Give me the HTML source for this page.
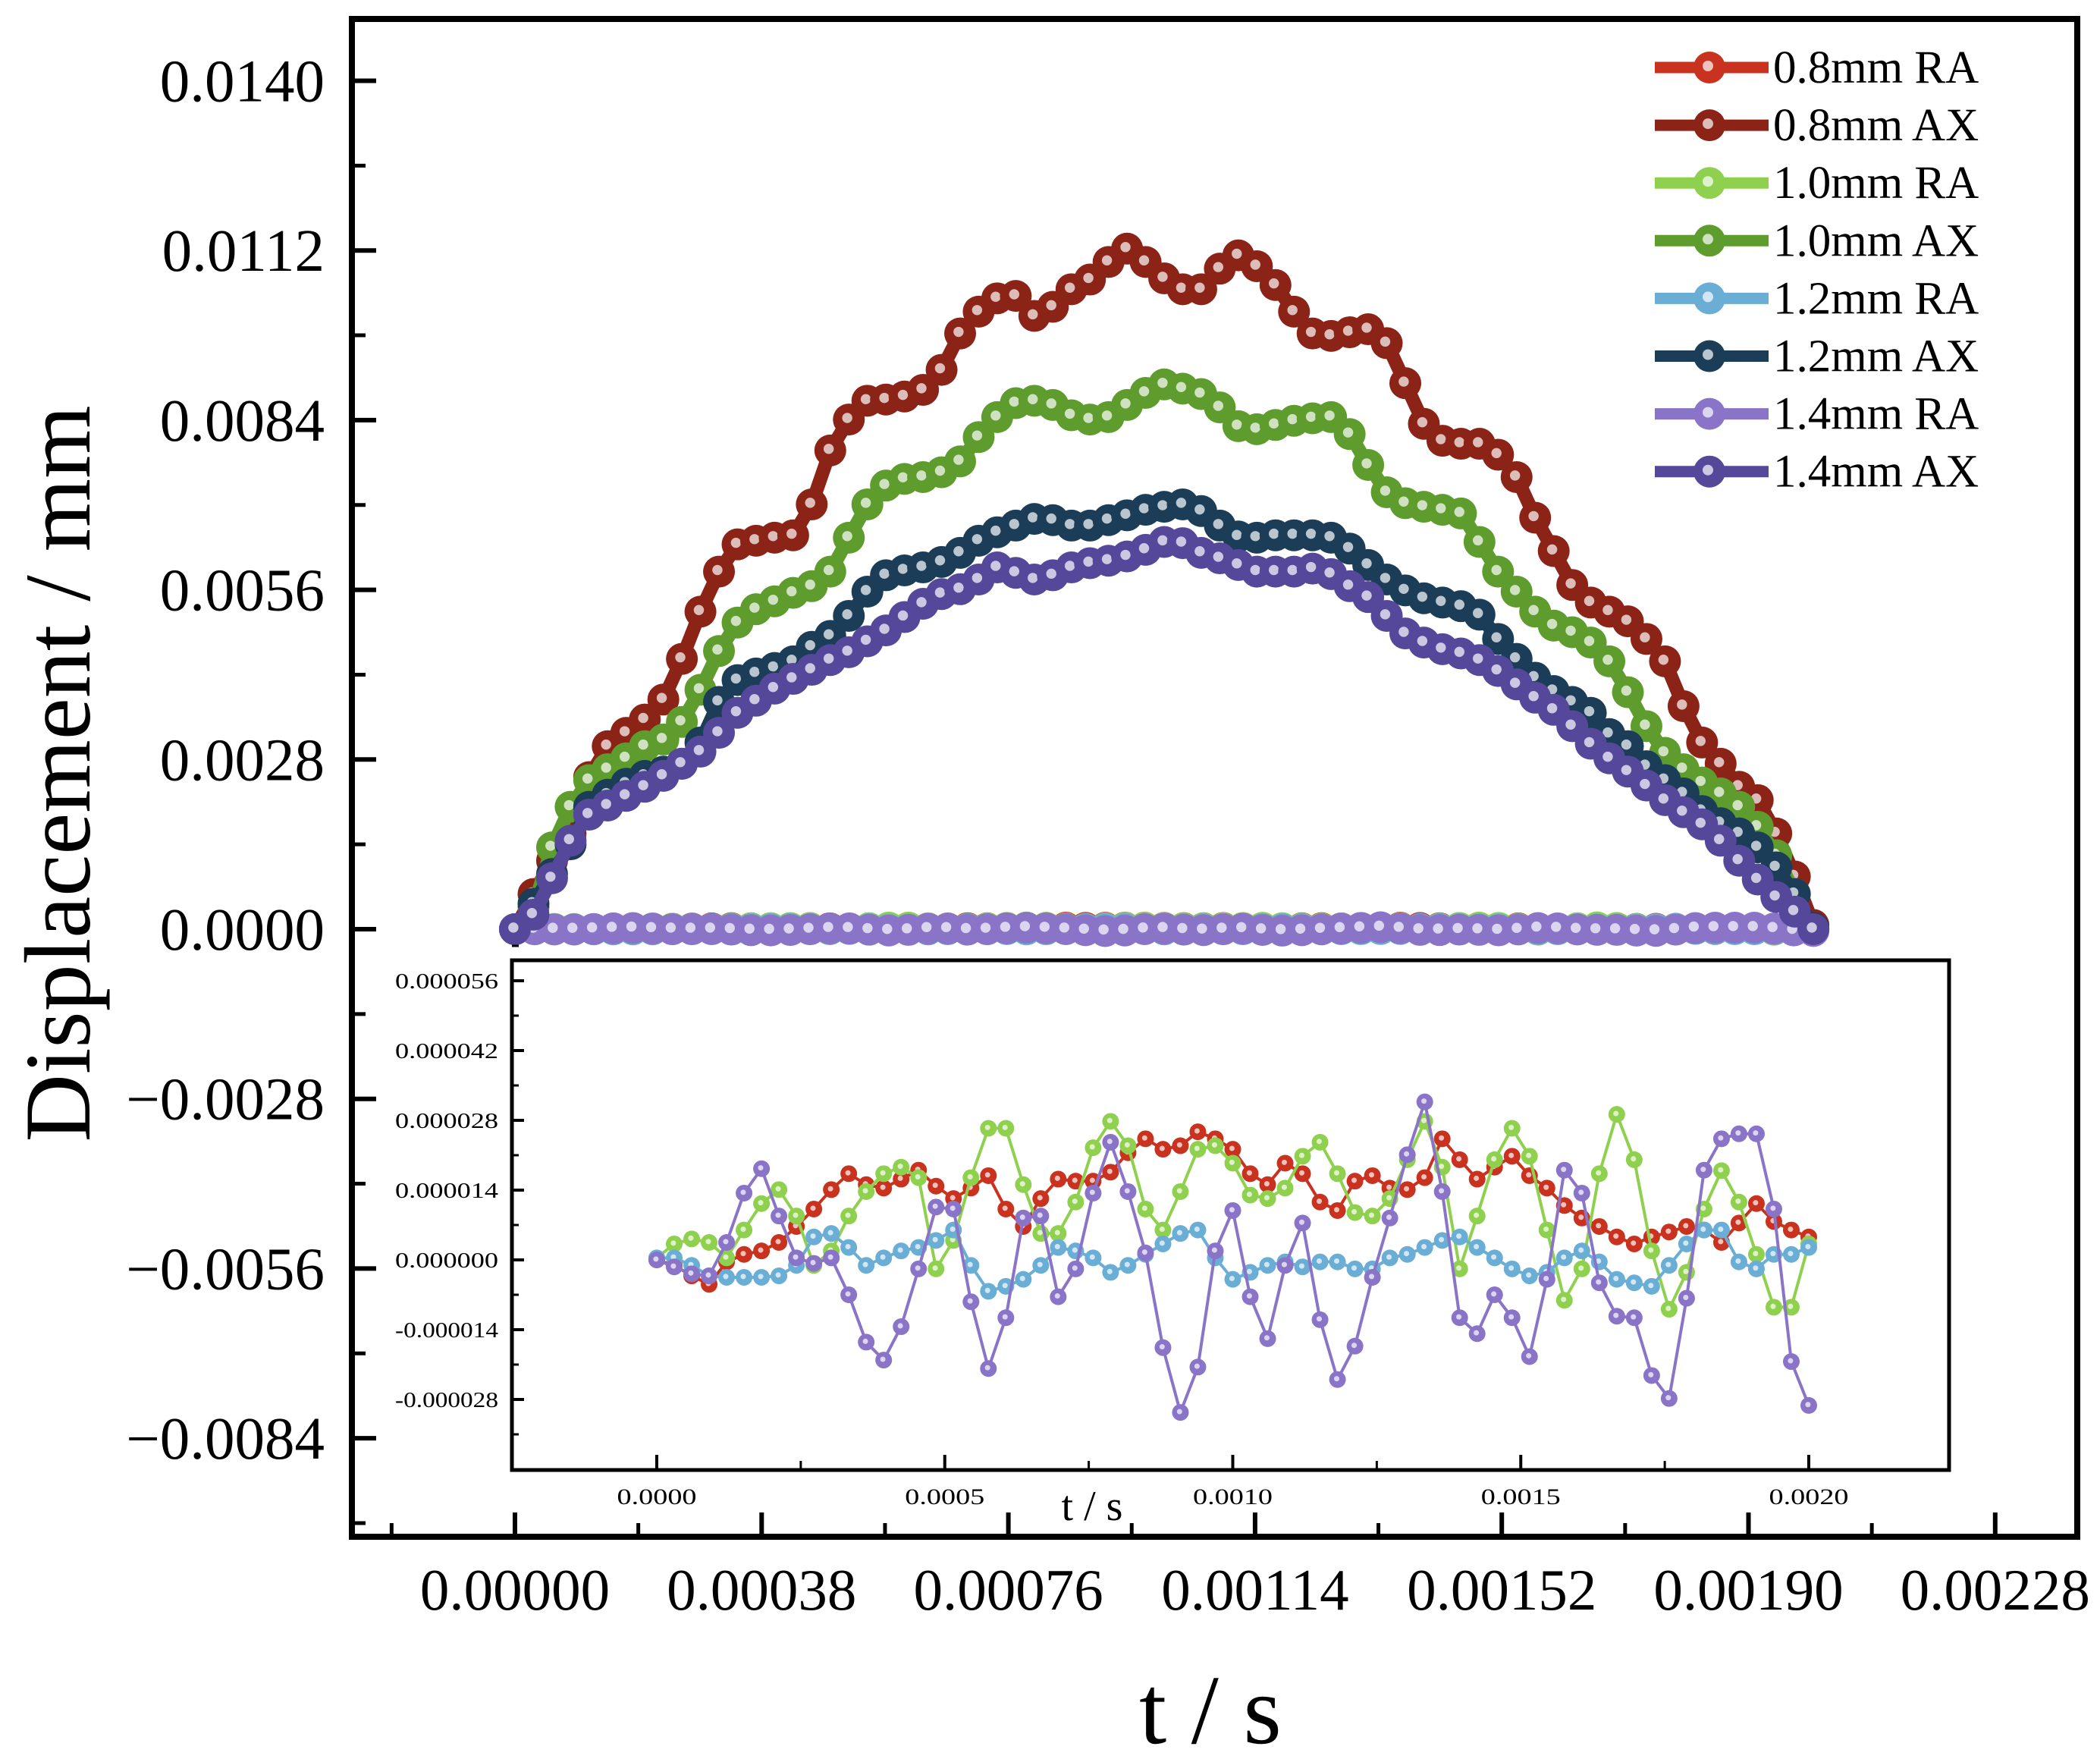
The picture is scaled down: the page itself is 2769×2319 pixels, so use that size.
<!DOCTYPE html>
<html><head><meta charset="utf-8"><style>
html,body{margin:0;padding:0;background:#fff}
svg{display:block}
text{font-family:"Liberation Serif",serif;fill:#000}
</style></head><body>
<svg id="chart" width="2769" height="2319" viewBox="0 0 2769 2319" xmlns="http://www.w3.org/2000/svg"></svg>
<script>
// ---- data (main chart, displacement in 1e-3 mm) ----
const mainN = 71;
const mainTMax = 0.002;
const ax08 = [0,0.58,1.13,1.58,2.51,3.02,3.24,3.46,3.79,4.46,5.24,5.90,6.35,6.41,6.46,6.50,7.01,7.90,8.41,8.72,8.74,8.79,8.90,9.23,9.83,10.19,10.41,10.45,10.12,10.27,10.56,10.72,11.01,11.23,11.01,10.74,10.56,10.56,10.90,11.12,10.94,10.63,10.19,9.83,9.79,9.85,9.90,9.67,9.01,8.34,8.06,8.01,8.01,7.83,7.46,6.79,6.24,5.68,5.39,5.24,5.08,4.79,4.42,3.68,3.08,2.73,2.35,2.13,1.58,0.87,0.07];
const ax10 = [0,0.36,1.35,2.02,2.46,2.64,2.82,3.02,3.13,3.42,3.95,4.59,5.06,5.28,5.41,5.55,5.66,5.90,6.46,7.01,7.32,7.43,7.46,7.54,7.72,8.12,8.45,8.68,8.72,8.65,8.48,8.41,8.45,8.65,8.85,8.99,8.92,8.83,8.61,8.30,8.25,8.32,8.39,8.43,8.45,8.17,7.66,7.21,7.03,6.97,6.92,6.86,6.39,5.90,5.57,5.24,5.01,4.90,4.73,4.42,3.91,3.35,2.91,2.64,2.42,2.24,2.02,1.69,1.22,0.58,0];
const ax12 = [0,0.42,0.91,1.40,2.02,2.22,2.40,2.53,2.60,2.73,3.08,3.75,4.11,4.22,4.31,4.42,4.66,4.84,5.17,5.57,5.84,5.92,5.97,6.06,6.21,6.41,6.55,6.66,6.77,6.75,6.66,6.66,6.75,6.83,6.92,6.97,7.01,6.90,6.66,6.48,6.46,6.50,6.50,6.50,6.46,6.28,6.01,5.77,5.59,5.46,5.39,5.33,5.19,4.79,4.46,4.15,3.93,3.75,3.57,3.22,3.02,2.69,2.46,2.24,1.95,1.75,1.58,1.35,1.02,0.58,0.02];
const ax14 = [0,0.24,0.84,1.46,1.89,2.04,2.20,2.35,2.53,2.73,2.93,3.24,3.57,3.77,3.97,4.13,4.28,4.44,4.57,4.75,4.93,5.15,5.37,5.53,5.61,5.77,5.97,5.88,5.77,5.84,5.97,6.04,6.08,6.15,6.26,6.39,6.37,6.21,6.12,6.01,5.90,5.90,5.90,5.95,5.86,5.66,5.48,5.17,4.88,4.73,4.62,4.55,4.44,4.26,4.04,3.82,3.62,3.35,3.06,2.82,2.60,2.37,2.13,1.93,1.73,1.46,1.13,0.82,0.53,0.29,0];
// ---- data (RA series, displacement in 1e-6 mm) ----
const raN = 67;
const ra08 = [0,-1.1,-3.2,-4.9,-0.4,1.1,1.8,3.5,6.7,10.2,14.1,17.3,15.1,14.4,16.2,18.0,14.8,12.3,14.4,16.9,10.2,6.7,12.3,16.2,15.8,15.8,17.6,21.5,24.3,22.2,22.9,25.7,24.3,22.2,17.3,15.1,19.4,17.3,11.6,9.9,15.8,16.9,14.4,14.1,16.5,24.3,20.1,16.2,18.6,20.8,16.9,14.4,10.9,8.4,6.7,4.6,3.2,4.6,5.6,6.7,6.0,3.5,7.4,11.3,7.7,6.0,4.6];
const ra10 = [0.4,3.2,4.2,3.5,0.4,6.0,11.3,14.1,8.8,-1.1,1.8,8.8,13.7,17.3,18.6,16.5,-1.8,3.9,16.5,26.4,26.4,15.1,5.3,5.3,11.6,22.5,27.8,22.9,10.2,6.0,13.7,22.2,22.9,19.4,13.0,12.3,14.4,20.8,23.6,17.3,9.5,8.8,12.3,20.1,27.8,18.6,-1.8,8.8,20.1,26.4,20.8,6.0,-8.1,-1.8,17.3,29.2,20.1,1.8,-9.9,-2.5,10.2,17.9,11.6,1.1,-9.5,-9.5,3.2];
const ra12 = [0.4,0.4,-1.1,-3.2,-3.5,-3.5,-3.5,-3.2,-1.1,4.6,5.3,2.5,-1.1,0.4,1.8,2.5,3.9,6.0,-1.1,-6.3,-5.3,-3.9,-1.1,2.5,1.8,0.4,-2.5,-1.1,1.1,3.2,5.3,6.0,0.4,-3.9,-2.5,-1.1,-0.4,-1.4,-0.4,-0.4,-1.8,-1.8,0.4,1.1,2.5,3.9,4.6,2.5,0.4,-1.8,-3.2,-2.5,0.4,1.8,-0.4,-3.9,-4.6,-5.3,-1.1,3.2,6.0,6.0,-0.4,-1.8,1.1,1.1,2.5];
const ra14 = [0,-1.4,-2.8,-3.2,3.5,13.4,18.3,8.8,0.4,-0.7,0.4,-7.0,-16.5,-20.1,-13.4,-1.8,10.6,10.2,-8.4,-21.8,-11.6,8.4,8.8,-7.4,-1.8,13.4,23.6,13.7,1.4,-17.6,-30.6,-21.5,1.8,9.9,-7.4,-15.8,-1.1,7.4,-12.0,-24.0,-17.3,-3.5,8.4,21.1,31.7,13.7,-11.6,-14.8,-7.0,-11.6,-19.4,-3.9,18.0,13.4,-4.6,-11.3,-11.6,-23.2,-27.8,-7.7,18.0,24.3,25.3,25.3,10.2,-20.4,-29.2];
const yTicks = [0.0140,0.0112,0.0084,0.0056,0.0028,0,-0.0028,-0.0056,-0.0084];
const yTickLabels = ["0.0140","0.0112","0.0084","0.0056","0.0028","0.0000","\u22120.0028","\u22120.0056","\u22120.0084"];
const xTicks = [0,0.00038,0.00076,0.00114,0.00152,0.00190,0.00228];
const xTickLabels = ["0.00000","0.00038","0.00076","0.00114","0.00152","0.00190","0.00228"];
const inYTicks = [0.000056,0.000042,0.000028,0.000014,0,-0.000014,-0.000028];
const inYTickLabels = ["0.000056","0.000042","0.000028","0.000014","0.000000","-0.000014","-0.000028"];
const inXTicks = [0,0.0005,0.0010,0.0015,0.0020];
const inXTickLabels = ["0.0000","0.0005","0.0010","0.0015","0.0020"];
const legendLabels = ["0.8mm RA","0.8mm AX","1.0mm RA","1.0mm AX","1.2mm RA","1.2mm AX","1.4mm RA","1.4mm AX"];

const NS="http://www.w3.org/2000/svg";
const svg=document.getElementById('chart');
function mk(tag,attrs,parent){const e=document.createElementNS(NS,tag);for(const k in attrs)e.setAttribute(k,attrs[k]);(parent||svg).appendChild(e);return e;}

const X0=679, XS=325.3/0.00038, Y0=1225, YS=223.7/0.0028;
const xMain=t=>X0+t*XS, yMain=v=>Y0-v*YS;
const IX0=866, IXS=(2385-866)/0.002, IY0=1661, IYS=92/0.000014;
const xIn=t=>IX0+t*IXS, yIn=v=>IY0-v*IYS;

const colors={ra08:"#c8321e",ax08:"#8b2317",ra10:"#8fd14f",ax10:"#5e9c2e",ra12:"#6aaed6",ax12:"#1b3d57",ra14:"#8a74c8",ax14:"#55479a"};

const frame=mk('rect',{x:464,y:25,width:2275,height:2001,fill:'none',stroke:'#000','stroke-width':8});



const yAx=mk('g',{});


yTicks.forEach((v,i)=>{
  const y=yMain(v);
  mk('line',{x1:464,x2:496,y1:y,y2:y,stroke:'#000','stroke-width':6},yAx);
  const yh=yMain(v-0.0014);
  if(yh<2026) mk('line',{x1:464,x2:482,y1:yh,y2:yh,stroke:'#000','stroke-width':5},yAx);
  const t=mk('text',{x:428,y:y+27,'font-size':79,'text-anchor':'end'},yAx);
  t.textContent=yTickLabels[i];
  
  
});
{const yh=yMain(0.0154); mk('line',{x1:464,x2:482,y1:yh,y2:yh,stroke:'#000','stroke-width':5},yAx);}
const xAx=mk('g',{});


xTicks.forEach((v,i)=>{
  const x=xMain(v);
  mk('line',{x1:x,x2:x,y1:2026,y2:1994,stroke:'#000','stroke-width':6},xAx);
  const xh=xMain(v-0.00019);
  if(xh>464) mk('line',{x1:xh,x2:xh,y1:2026,y2:2008,stroke:'#000','stroke-width':5},xAx);
  const t=mk('text',{x:x,y:2122,'font-size':77,'text-anchor':'middle'},xAx);
  t.textContent=xTickLabels[i];
  
  
});
{const xh=xMain(0.00247); mk('line',{x1:xh,x2:xh,y1:2026,y2:2008,stroke:'#000','stroke-width':5},xAx);}

const yt=mk('text',{x:0,y:0,'font-size':124,'text-anchor':'middle',transform:'translate(118,1020) rotate(-90)'});
yt.textContent='Displacement / mm';


const xt=mk('text',{x:1596,y:2298,'font-size':130,'text-anchor':'middle'});
xt.textContent='t / s';



function series(vals,n,tmax,scale,xf,yf,color,lw,r,name){
  const g=mk('g',{});
  
  
  const pts=vals.map((v,i)=>[xf(i*tmax/(n-1)),yf(v*scale)]);
  mk('polyline',{points:pts.map(p=>p.join(',')).join(' '),fill:'none',stroke:color,'stroke-width':lw,'stroke-linejoin':'round'},g);
  pts.forEach(p=>{
    const c=mk('circle',{cx:p[0],cy:p[1],r:r,fill:color},g);
    
    
    mk('circle',{cx:p[0]-r*0.1,cy:p[1]-r*0.1,r:r*0.32,fill:'#fff',opacity:0.7},g);
  });
}
series(ra08,raN,0.002,1e-6,xMain,yMain,colors.ra08,18,21,'series-0.8mm-ra');
series(ax08,mainN,mainTMax,1e-3,xMain,yMain,colors.ax08,18,21,'series-0.8mm-ax');
series(ra10,raN,0.002,1e-6,xMain,yMain,colors.ra10,18,21,'series-1.0mm-ra');
series(ax10,mainN,mainTMax,1e-3,xMain,yMain,colors.ax10,18,21,'series-1.0mm-ax');
series(ra12,raN,0.002,1e-6,xMain,yMain,colors.ra12,18,21,'series-1.2mm-ra');
series(ax12,mainN,mainTMax,1e-3,xMain,yMain,colors.ax12,18,21,'series-1.2mm-ax');
series(ra14,raN,0.002,1e-6,xMain,yMain,colors.ra14,18,21,'series-1.4mm-ra');
series(ax14,mainN,mainTMax,1e-3,xMain,yMain,colors.ax14,18,21,'series-1.4mm-ax');

const lg=mk('g',{});


const lgCols=[colors.ra08,colors.ax08,colors.ra10,colors.ax10,colors.ra12,colors.ax12,colors.ra14,colors.ax14];
legendLabels.forEach((lab,i)=>{
  const y=89+i*76.1;
  const e=mk('g',{},lg);
  
  
  mk('line',{x1:2182,x2:2332,y1:y,y2:y,stroke:lgCols[i],'stroke-width':15},e);
  mk('circle',{cx:2254,cy:y,r:21,fill:lgCols[i]},e);
  mk('circle',{cx:2252,cy:y-2,r:7,fill:'#fff',opacity:0.7},e);
  const t=mk('text',{x:2338,y:y+20,'font-size':61},e);
  t.textContent=lab;
});

const ins=mk('g',{});


mk('rect',{x:675,y:1266,width:1895,height:672,fill:'#fff',stroke:'#000','stroke-width':5},ins);
inYTicks.forEach((v,i)=>{
  const y=yIn(v);
  mk('line',{x1:675,x2:691,y1:y,y2:y,stroke:'#000','stroke-width':4},ins);
  const yh=yIn(v-0.000007);
  if(yh<1938) mk('line',{x1:675,x2:684,y1:yh,y2:yh,stroke:'#000','stroke-width':3},ins);
  const t=mk('text',{x:657,y:y+10,'font-size':29,'text-anchor':'end',textLength:136,lengthAdjust:'spacingAndGlyphs'},ins);
  t.textContent=inYTickLabels[i];
  
  
});
{const yh=yIn(0.000063); mk('line',{x1:675,x2:684,y1:yh,y2:yh,stroke:'#000','stroke-width':3},ins);}
inXTicks.forEach((v,i)=>{
  const x=xIn(v);
  mk('line',{x1:x,x2:x,y1:1938,y2:1918,stroke:'#000','stroke-width':4},ins);
  if(i<inXTicks.length-1){const xh=xIn(v+0.00025); mk('line',{x1:xh,x2:xh,y1:1938,y2:1926,stroke:'#000','stroke-width':3},ins);}
  const t=mk('text',{x:x,y:1983,'font-size':30,'text-anchor':'middle',textLength:105,lengthAdjust:'spacingAndGlyphs'},ins);
  t.textContent=inXTickLabels[i];
  
  
});
const it=mk('text',{x:1440,y:2004,'font-size':56,'text-anchor':'middle'},ins);
it.textContent='t / s';



series(ra08,raN,0.002,1e-6,xIn,yIn,"#c8321e",4,11,'inset-series-0.8mm-ra');
series(ra10,raN,0.002,1e-6,xIn,yIn,"#8fd14f",4,11,'inset-series-1.0mm-ra');
series(ra12,raN,0.002,1e-6,xIn,yIn,"#6aaed6",4,11,'inset-series-1.2mm-ra');
series(ra14,raN,0.002,1e-6,xIn,yIn,"#8a74c8",4,11,'inset-series-1.4mm-ra');
</script>
</body></html>
